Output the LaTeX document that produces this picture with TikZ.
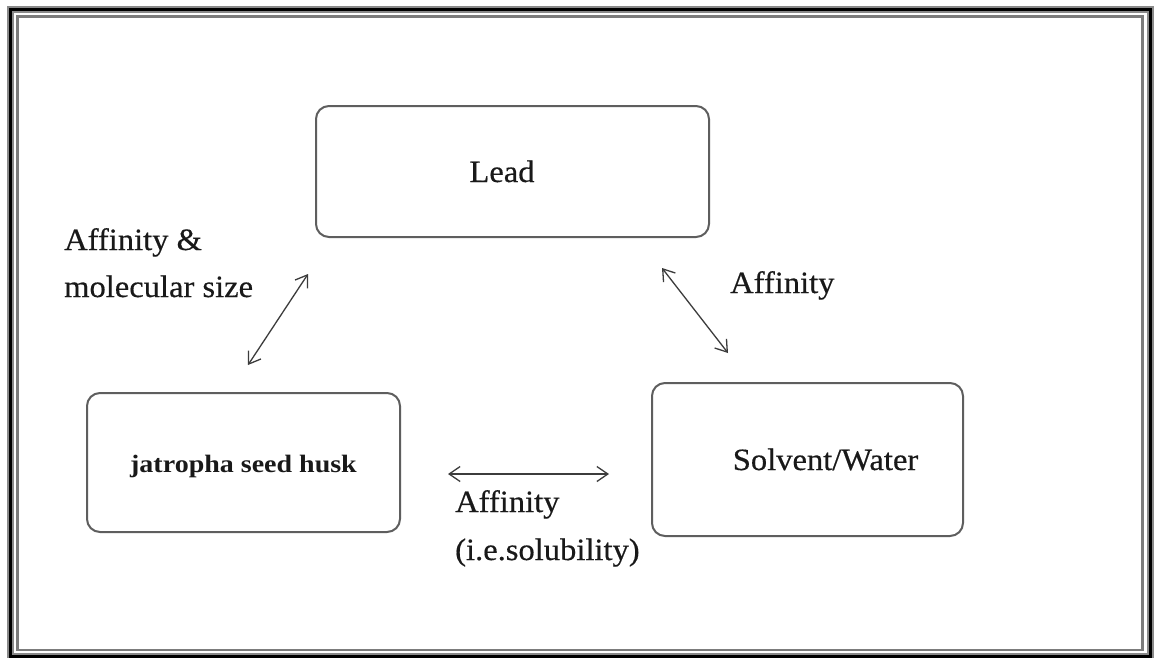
\documentclass[tikz,border=0pt]{standalone}
\usepackage{fontspec}
\setmainfont[FakeStretch=1.05,FakeBold=0.4]{Liberation Serif}
\newfontfamily\huskfont[FakeStretch=1.12]{Liberation Serif}
\usetikzlibrary{arrows.meta}
\definecolor{boxgray}{HTML}{5E5E5E}
\definecolor{arrowgray}{HTML}{3C3C3C}
\definecolor{framegray}{HTML}{8A8A8A}
\tikzset{
  box/.style={draw=boxgray, line width=2pt, rounded corners=13pt, fill=white},
  lbl/.style={inner sep=0pt, anchor=base west, font=\fontsize{31}{37}\selectfont, text=black!90},
  boxtxt/.style={inner sep=0pt, anchor=base, font=\fontsize{31}{37}\selectfont, text=black!90},
  link/.style={draw=arrowgray, line width=1.3pt, {Straight Barb[length=11pt,width=15pt,line width=1.3pt]}-{Straight Barb[length=11pt,width=15pt,line width=1.3pt]}}
}
\begin{document}
\begin{tikzpicture}[x=1pt,y=-1pt]
\useasboundingbox (0,0) rectangle (1156,657);
\fill[white] (0,0) rectangle (1156,657);
% frame
\draw[framegray, line width=7pt] (10.5,9.5) rectangle (1150,656);
\draw[black, line width=3pt] (10.5,9.5) rectangle (1150,656);
\draw[framegray!90!black, line width=2.2pt] (17.5,16.5) rectangle (1142.5,650);
% boxes
\path (316,106) rectangle (709,237) node[box, pos=0.5, minimum width=393pt, minimum height=131pt] (lead) {};
\path (87,393) rectangle (400,532) node[box, pos=0.5, minimum width=313pt, minimum height=139pt] (husk) {};
\path (652,383) rectangle (963,536) node[box, pos=0.5, minimum width=311pt, minimum height=153pt] (solvent) {};
\node[boxtxt] (leadtxt) at ([shift={(-10.5,10.5)}]lead.center) {Lead};
\node[boxtxt, font=\huskfont\bfseries\fontsize{25}{30}\selectfont] (husktxt) at ([shift={(0,9.5)}]husk.center) {jatropha seed husk};
\node[boxtxt] (solventtxt) at ([shift={(18,10.5)}]solvent.center) {Solvent/Water};
% labels
\node[lbl] (aff1) at (64,250) {Affinity \&};
\node[lbl] (aff2) at (64,297) {molecular size};
\node[lbl] (aff3) at (730,293) {Affinity};
\node[lbl] (aff4) at (455,512) {Affinity};
\node[lbl] (aff5) at (455,560) {(i.e.solubility)};
% arrow ends
\coordinate (la) at (308,274);
\coordinate (lb) at (248,365);
\coordinate (ra) at (662,268);
\coordinate (rb) at (728,353);
\coordinate (ha) at (448,474);
\coordinate (hb) at (609,474);
\draw[link] (la) -- (lb);
\draw[link] (ra) -- (rb);
\draw[link] (ha) -- (hb);
\end{tikzpicture}
\end{document}
